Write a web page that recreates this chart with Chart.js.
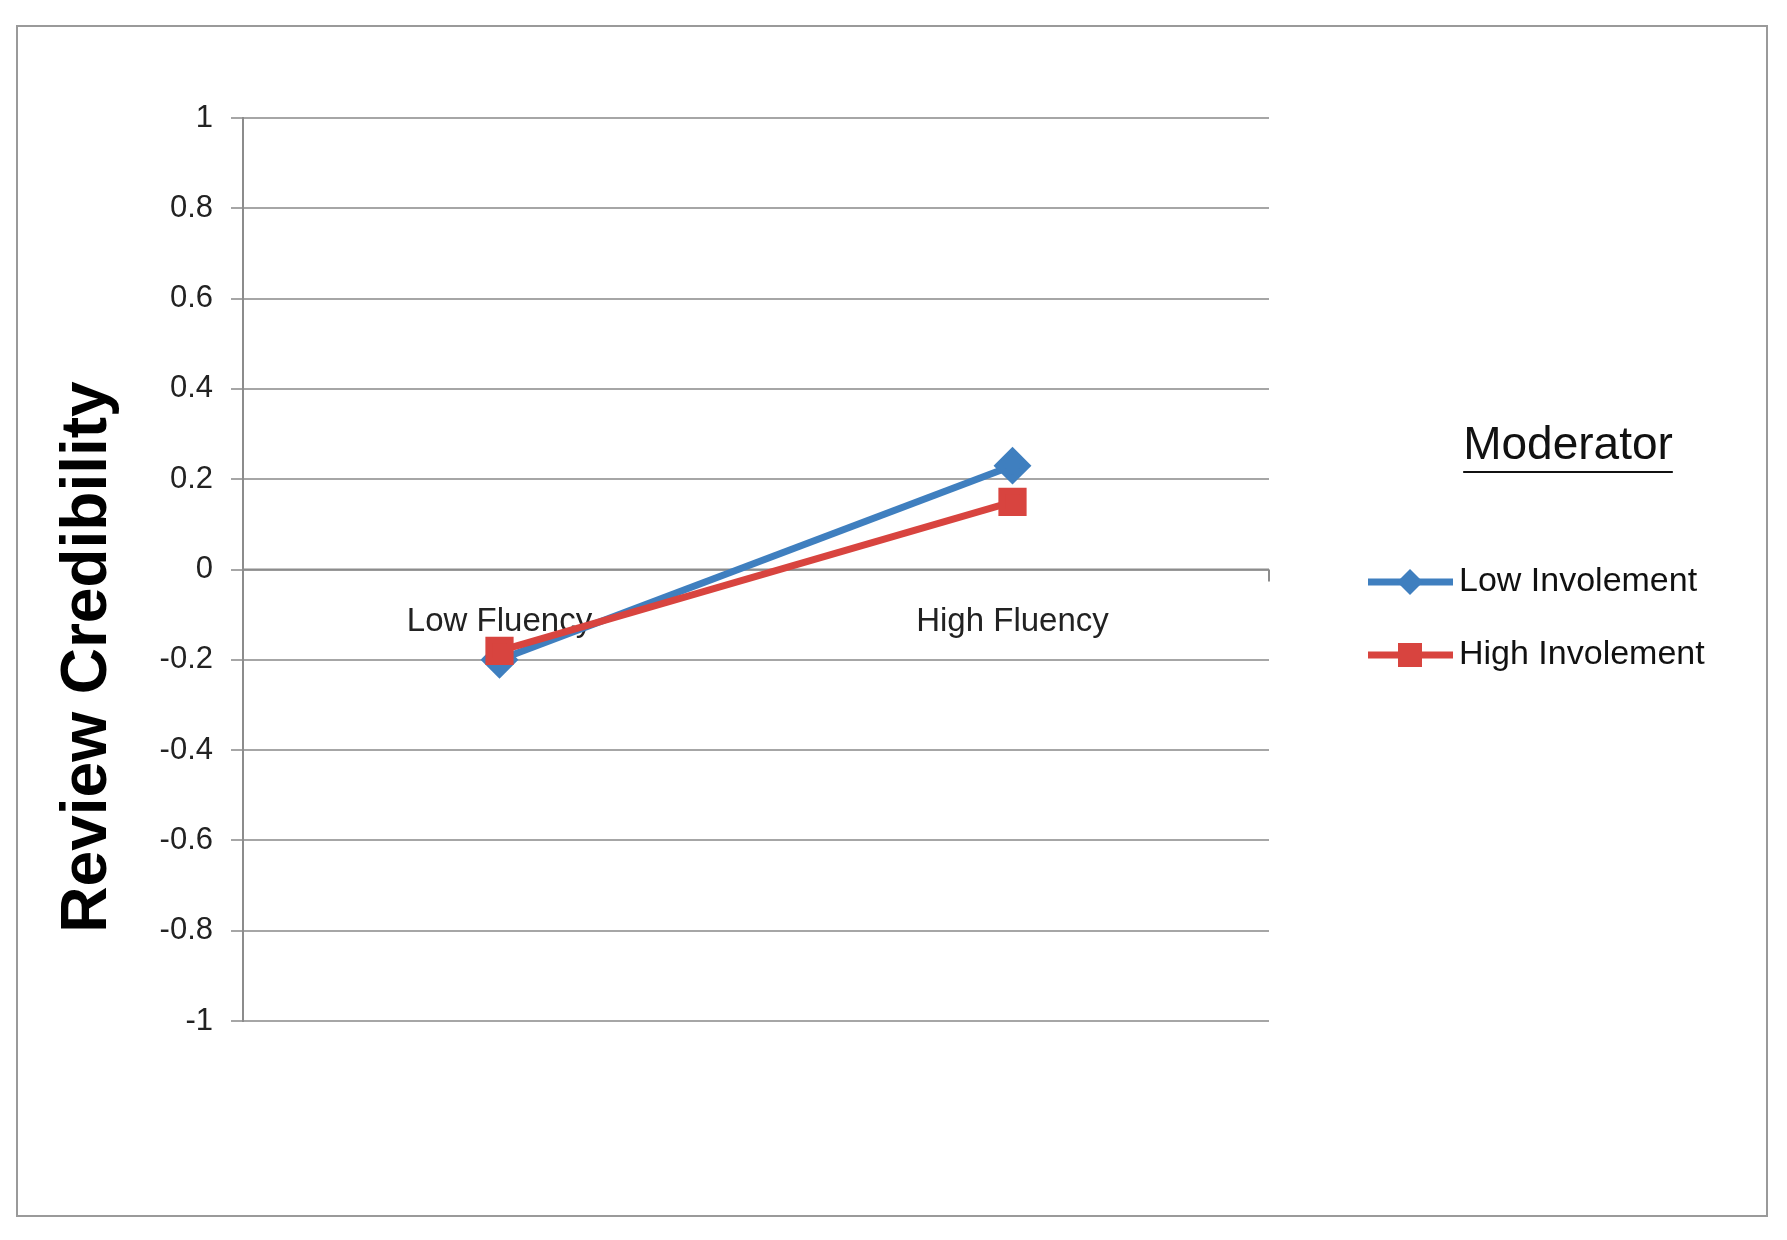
<!DOCTYPE html>
<html>
<head>
<meta charset="utf-8">
<script src="https://cdn.jsdelivr.net/npm/chart.js@4/dist/chart.umd.min.js"></script>
<style>
  html, body { margin: 0; padding: 0; background: #fff; }
  #wrap { width: 1787px; height: 1240px; }
</style>
</head>
<body>
<div id="wrap"><canvas id="c" width="1787" height="1240"></canvas></div>
<script>
// Data
const categories = ["Low Fluency", "High Fluency"];
const lowInvolvement = [-0.2, 0.23];
const highInvolvement = [-0.18, 0.15];
const seriesNames = ["Low Involement", "High Involement"];
const yTicks = [1, 0.8, 0.6, 0.4, 0.2, 0, -0.2, -0.4, -0.6, -0.8, -1];

const BLUE = "#3F7FBF";
const RED = "#D8443F";
const FONT = "'Liberation Sans', Arial, sans-serif";

// Frame, axis title, zero axis, category labels and legend
const decor = {
  id: "decor",
  beforeDraw(chart) {
    const ctx = chart.ctx;
    ctx.save();
    ctx.fillStyle = "#fff";
    ctx.fillRect(0, 0, chart.width, chart.height);
    ctx.strokeStyle = "#9a9a9a";
    ctx.lineWidth = 2;
    ctx.strokeRect(17, 26, 1750, 1190);
    ctx.restore();
  },
  beforeDatasetsDraw(chart) {
    const ctx = chart.ctx;
    const { left, right } = chart.chartArea;
    const y = chart.scales.y;
    const x = chart.scales.x;
    const y0 = y.getPixelForValue(0);
    ctx.save();
    ctx.strokeStyle = "#8c8c8c";
    ctx.lineWidth = 2;
    ctx.beginPath();
    ctx.moveTo(left, y0); ctx.lineTo(right, y0);
    ctx.moveTo(right, y0); ctx.lineTo(right, y0 + 12);
    ctx.stroke();
    ctx.fillStyle = "#222";
    ctx.font = `33px ${FONT}`;
    ctx.textAlign = "center";
    ctx.textBaseline = "middle";
    categories.forEach((c, i) => ctx.fillText(c, x.getPixelForValue(i), y0 + 52));
    ctx.restore();
  },
  afterDraw(chart) {
    const ctx = chart.ctx;
    ctx.save();
    ctx.translate(88, 657);
    ctx.rotate(-Math.PI / 2);
    ctx.font = `bold 64px ${FONT}`;
    ctx.fillStyle = "#000";
    ctx.textAlign = "center";
    ctx.textBaseline = "middle";
    ctx.fillText("Review Credibility", 0, 0);
    ctx.restore();

    ctx.save();
    ctx.font = `46px ${FONT}`;
    ctx.fillStyle = "#111";
    ctx.textAlign = "center";
    ctx.textBaseline = "middle";
    ctx.fillText("Moderator", 1568, 446);
    const tw = ctx.measureText("Moderator").width;
    ctx.strokeStyle = "#111";
    ctx.lineWidth = 2;
    ctx.beginPath();
    ctx.moveTo(1568 - tw / 2, 472); ctx.lineTo(1568 + tw / 2, 472);
    ctx.stroke();

    const items = [
      { name: seriesNames[0], color: BLUE, y: 582, marker: "diamond" },
      { name: seriesNames[1], color: RED, y: 655, marker: "square" },
    ];
    ctx.font = `34px ${FONT}`;
    ctx.textAlign = "left";
    items.forEach(it => {
      ctx.strokeStyle = it.color;
      ctx.lineWidth = 7;
      ctx.beginPath();
      ctx.moveTo(1368, it.y); ctx.lineTo(1453, it.y);
      ctx.stroke();
      ctx.fillStyle = it.color;
      const cx = 1410;
      if (it.marker === "diamond") {
        ctx.beginPath();
        ctx.moveTo(cx, it.y - 13); ctx.lineTo(cx + 13, it.y);
        ctx.lineTo(cx, it.y + 13); ctx.lineTo(cx - 13, it.y);
        ctx.closePath(); ctx.fill();
      } else {
        ctx.fillRect(cx - 12, it.y - 12, 24, 24);
      }
      ctx.fillStyle = "#111";
      ctx.fillText(it.name, 1459, it.y);
    });
    ctx.restore();
  }
};

new Chart(document.getElementById("c"), {
  type: "line",
  data: {
    labels: categories,
    datasets: [
      {
        label: seriesNames[0], data: lowInvolvement, order: 2,
        borderColor: BLUE, backgroundColor: BLUE, borderWidth: 7,
        pointStyle: "rectRot", pointRadius: 14, pointHoverRadius: 14,
      },
      {
        label: seriesNames[1], data: highInvolvement, order: 1,
        borderColor: RED, backgroundColor: RED, borderWidth: 7,
        pointStyle: "rect", pointRadius: 15, pointHoverRadius: 15,
      },
    ],
  },
  options: {
    responsive: false,
    animation: false,
    devicePixelRatio: 1,
    layout: { padding: { left: 0, top: 118, right: 1787 - 1269, bottom: 1240 - 1021 } },
    plugins: { legend: { display: false }, tooltip: { enabled: false } },
    scales: {
      x: { display: false, offset: true },
      y: {
        min: -1, max: 1,
        afterFit(scale) { scale.width = 243; },
        afterBuildTicks(scale) { scale.ticks = yTicks.map(v => ({ value: v })); },
        border: { display: true, color: "#8c8c8c", width: 2 },
        grid: { color: "#a6a6a6", lineWidth: 2, tickLength: 12 },
        ticks: {
          color: "#222", padding: 18,
          font: { size: 31, family: "'Liberation Sans', Arial, sans-serif" },
          callback: v => String(Math.round(v * 10) / 10),
        },
      },
    },
  },
  plugins: [decor],
});
</script>
</body>
</html>
